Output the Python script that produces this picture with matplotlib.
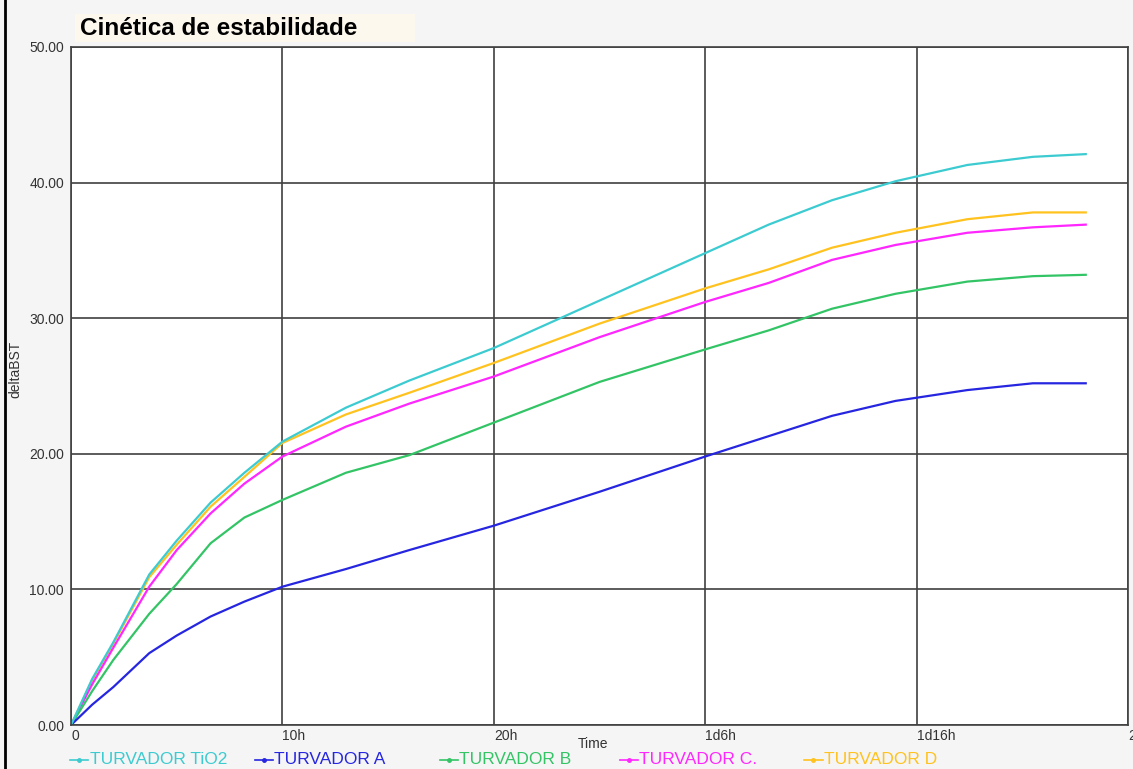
import matplotlib.pyplot as plt
from matplotlib.lines import Line2D
from matplotlib.patches import Rectangle

plt.rcParams['font.family'] = ['Liberation Sans', 'DejaVu Sans']

# time in hours
hours = [0, 1, 2, 3.7, 5, 6.6, 8.2, 10, 13, 16, 20, 25, 30, 33, 36, 39, 42.4, 45.5, 48]
tio2 = [0, 3.4, 6.1, 11.1, 13.6, 16.4, 18.6, 20.9, 23.4, 25.4, 27.8, 31.3, 34.8,
        36.9, 38.7, 40.1, 41.3, 41.9, 42.1]
turv_a = [0, 1.5, 2.8, 5.3, 6.6, 8.0, 9.1, 10.2, 11.5, 12.9, 14.7, 17.2, 19.8,
          21.3, 22.8, 23.9, 24.7, 25.2, 25.2]
turv_b = [0, 2.5, 4.8, 8.2, 10.4, 13.4, 15.3, 16.6, 18.6, 19.9, 22.3, 25.3, 27.7,
          29.1, 30.7, 31.8, 32.7, 33.1, 33.2]
turv_c = [0, 3.0, 5.7, 10.2, 12.9, 15.6, 17.8, 19.8, 22.0, 23.7, 25.7, 28.6, 31.2,
          32.6, 34.3, 35.4, 36.3, 36.7, 36.9]
turv_d = [0, 3.3, 6.0, 10.9, 13.3, 16.1, 18.3, 20.8, 22.9, 24.5, 26.7, 29.6, 32.2,
          33.6, 35.2, 36.3, 37.3, 37.8, 37.8]

series = [
    ("TURVADOR TiO2", tio2, "#3ccbd0"),
    ("TURVADOR A", turv_a, "#2626e0"),
    ("TURVADOR B", turv_b, "#33c466"),
    ("TURVADOR C.", turv_c, "#ff26ff"),
    ("TURVADOR D", turv_d, "#ffc21e"),
]

xticks = [0, 10, 20, 30, 40, 50]
xticklabels = ["0", "10h", "20h", "1d6h", "1d16h", "2"]
yticks = [0, 10, 20, 30, 40, 50]

fig = plt.figure(figsize=(11.33, 7.69), dpi=100)
fig.patch.set_facecolor("#f5f5f5")
ax = fig.add_axes([0.0627, 0.0572, 0.9329, 0.8817])
ax.set_facecolor("white")

# draw D first so cyan stays on top like the original
for name, vals, col in series[::-1]:
    ax.plot(hours, vals, color=col, lw=1.6)

ax.set_xlim(0, 50)
ax.set_ylim(0, 50)
ax.set_xticks(xticks)
ax.set_xticklabels(xticklabels, ha="left")
ax.set_yticks(yticks)
ax.set_yticklabels(["%.2f" % v for v in yticks])
ax.tick_params(length=0, labelsize=10, colors="#333333", pad=5)
ax.tick_params(axis="x", pad=3)
ax.grid(True, color="#404040", lw=1.2)
for s in ax.spines.values():
    s.set_color("#404040")
    s.set_linewidth(1.2)

fig.text(0.523, 0.027, "Time", fontsize=10, color="#333333", ha="center")
fig.text(0.014, 0.52, "deltaBST", fontsize=10, color="#333333", rotation=90,
         ha="center", va="center")

# title on cream box
fig.add_artist(Rectangle((0.066, 0.945), 0.300, 0.037, transform=fig.transFigure,
                         facecolor="#fdf8ee", edgecolor="none"))
fig.text(0.071, 0.963, "Cinética de estabilidade", fontsize=17.5, fontweight="bold",
         va="center", ha="left")

# left border line
fig.add_artist(Line2D([0.004, 0.004], [0, 1], color="black", lw=2))

leg_x = [0.062, 0.225, 0.388, 0.547, 0.710]
for (name, _, col), x in zip(series, leg_x):
    fig.text(x + 0.017, 0.012, name, color=col, fontsize=12.5, va="center", ha="left")
    fig.add_artist(Line2D([x, x + 0.016], [0.012, 0.012], color=col, lw=1.2))
    fig.add_artist(Line2D([x + 0.008], [0.012], color=col, marker="o", markersize=2.5))

fig.savefig("out.png", dpi=100, facecolor=fig.get_facecolor())
